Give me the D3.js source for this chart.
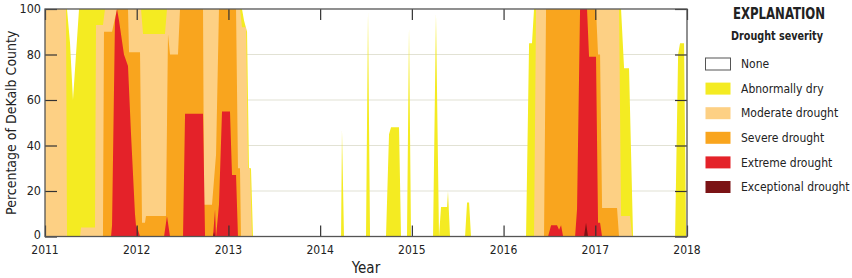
<!DOCTYPE html>
<html>
<head>
<meta charset="utf-8">
<script src="https://cdn.jsdelivr.net/npm/d3@7"></script>
<style>
  body { margin: 0; background: #fff; }
  text { font-family: "Liberation Sans Narrow", "DejaVu Sans Condensed", Roboto, sans-serif; fill: #222; }
</style>
</head>
<body>
<script>
// svg size and plot box
var w = 852;
var h = 278;
var plotLeft = 45;
var plotRight = 687;
var plotTop = 9;
var plotBottom = 236.5;

// tick labels
var yearTicks = [2011, 2012, 2013, 2014, 2015, 2016, 2017, 2018];
var pctTicks = [0, 20, 40, 60, 80, 100];

// legend categories
var categories = ["None", "Abnormally dry", "Moderate drought", "Severe drought",
                  "Extreme drought", "Exceptional drought"];
var colors = ["#ffffff", "#f4eb22", "#fdd084", "#f9a51e", "#e42229", "#7b1315"];

// percent of county in each category or worse, [decimal year, percent]
var abnormallyDry = [
  [2011.000,100],[2011.240,100],[2011.273,85],[2011.305,60],[2011.338,80],[2011.371,100],
  [2013.148,100],[2013.170,95],[2013.203,90],[2013.224,30],[2013.246,30],[2013.268,0],
  [2014.228,0],[2014.238,47],[2014.260,0],
  [2014.500,0],[2014.522,99],[2014.544,0],
  [2014.718,0],[2014.740,30],[2014.751,45],[2014.773,48],[2014.860,48],[2014.882,0],
  [2014.947,0],[2014.969,92],[2014.991,0],
  [2015.231,0],[2015.263,98],[2015.296,0],[2015.318,13],[2015.384,13],[2015.394,20],[2015.416,0],
  [2015.580,0],[2015.602,15],[2015.624,15],[2015.645,0],
  [2016.245,0],[2016.278,85],[2016.310,85],[2016.332,100],
  [2017.281,100],[2017.314,74],[2017.368,74],[2017.412,0],
  [2017.870,0],[2017.903,80],[2017.924,85],[2017.968,85],[2017.990,0]
];
var moderate = [
  [2011.000,100],[2011.229,100],[2011.240,0],[2011.382,0],[2011.393,4],[2011.545,4],
  [2011.556,93],[2011.632,93],[2011.654,100],[2012.047,100],[2012.069,89],[2012.308,89],
  [2012.330,100],[2013.126,100],[2013.148,92],[2013.192,92],[2013.214,30],[2013.235,30],[2013.257,0],
  [2016.332,0],[2016.354,100],[2017.259,100],[2017.281,9],[2017.379,9],[2017.401,0]
];
var severe = [
  [2011.000,0],[2011.632,0],[2011.643,90],[2011.731,90],[2011.785,100],[2011.905,100],
  [2011.916,81],[2012.036,81],[2012.058,6],[2012.090,6],[2012.101,9],[2012.319,9],
  [2012.341,89],[2012.363,80],[2012.450,80],[2012.472,100],[2012.723,100],[2012.734,14],
  [2012.821,14],[2012.865,36],[2012.897,100],[2013.083,100],[2013.104,30],[2013.126,30],[2013.137,0],
  [2016.441,0],[2016.463,100],[2017.008,100],[2017.030,80],[2017.052,80],[2017.074,12.5],
  [2017.237,12.5],[2017.259,0]
];
var extreme = [
  [2011.000,0],[2011.720,0],[2011.731,5],[2011.763,95],[2011.785,100],[2011.807,95],
  [2011.861,80],[2011.905,75],[2011.938,45],[2011.981,10],[2011.992,5],[2012.014,3],[2012.036,0],
  [2012.298,0],[2012.330,9],[2012.363,0],
  [2012.505,0],[2012.527,54],[2012.723,54],[2012.745,0],
  [2012.832,0],[2012.854,12],[2012.865,0],[2012.897,14],[2012.930,55],[2013.017,55],
  [2013.039,27],[2013.083,27],[2013.104,0],
  [2016.485,0],[2016.518,5],[2016.583,5],[2016.605,3],[2016.627,5],[2016.649,0],
  [2016.780,0],[2016.801,12],[2016.834,100],[2016.910,100],[2016.932,79],[2017.008,79],
  [2017.030,6],[2017.052,6],[2017.074,0]
];
var exceptional = [
  [2011.000,0],[2012.832,0],[2012.843,2],[2012.854,0],
  [2016.877,0],[2016.899,6],[2016.921,0]
];
var layers = [abnormallyDry, moderate, severe, extreme, exceptional];

// scales
var xScale = d3.scaleLinear().domain([2011, 2018]).range([plotLeft, plotRight]);
var yScale = d3.scaleLinear().domain([0, 100]).range([plotBottom, plotTop]);

var svg = d3.select("body")
            .append("svg")
            .attr("width", w)
            .attr("height", h);

// clip so areas stay inside plot box
svg.append("clipPath")
   .attr("id", "plotclip")
   .append("rect")
   .attr("x", plotLeft)
   .attr("y", plotTop)
   .attr("width", plotRight - plotLeft)
   .attr("height", plotBottom - plotTop);

// gridlines under the areas
svg.append("g")
   .selectAll("line")
   .data(pctTicks.slice(1, -1))
   .enter()
   .append("line")
   .attr("x1", plotLeft)
   .attr("x2", plotRight)
   .attr("y1", d => yScale(d))
   .attr("y2", d => yScale(d))
   .attr("stroke", "#e2e2d4")
   .attr("stroke-width", 1.2);

// draw each severity layer, worst on top
var area = d3.area()
             .x(d => xScale(d[0]))
             .y0(yScale(0))
             .y1(d => yScale(d[1]));

svg.append("g")
   .attr("clip-path", "url(#plotclip)")
   .selectAll("path")
   .data(layers)
   .enter()
   .append("path")
   .attr("d", area)
   .attr("fill", (d, i) => colors[i + 1]);

// axes with inward ticks on all four sides
svg.append("g")
   .attr("transform", "translate(" + plotLeft + ",0)")
   .call(d3.axisRight(yScale).tickValues(pctTicks).tickSize(12).tickFormat(""));
svg.append("g")
   .attr("transform", "translate(" + plotRight + ",0)")
   .call(d3.axisLeft(yScale).tickValues(pctTicks).tickSize(12).tickFormat(""));
svg.append("g")
   .attr("transform", "translate(0," + plotBottom + ")")
   .call(d3.axisTop(xScale).tickValues(yearTicks).tickSize(11).tickFormat(""));
svg.append("g")
   .attr("transform", "translate(0," + plotTop + ")")
   .call(d3.axisBottom(xScale).tickValues(yearTicks).tickSize(11).tickFormat(""));
svg.selectAll(".domain").remove();
svg.selectAll(".tick line").attr("stroke", "#333").attr("stroke-width", 1.2);

// frame
svg.append("rect")
   .attr("x", plotLeft)
   .attr("y", plotTop)
   .attr("width", plotRight - plotLeft)
   .attr("height", plotBottom - plotTop)
   .attr("fill", "none")
   .attr("stroke", "#555")
   .attr("stroke-width", 1.3);

// tick labels
svg.append("g")
   .selectAll("text")
   .data(pctTicks)
   .enter()
   .append("text")
   .attr("x", plotLeft - 4)
   .attr("y", d => yScale(d) - (d == 0 ? 2 : 0))
   .attr("dy", "0.35em")
   .attr("text-anchor", "end")
   .style("font-size", "12.5px")
   .text(d => d);
svg.append("g")
   .selectAll("text")
   .data(yearTicks)
   .enter()
   .append("text")
   .attr("x", d => xScale(d))
   .attr("y", plotBottom + 17)
   .attr("text-anchor", "middle")
   .style("font-size", "12px")
   .text(d => d);

// axis titles
svg.append("text")
   .attr("x", (plotLeft + plotRight) / 2)
   .attr("y", 273)
   .attr("text-anchor", "middle")
   .style("font-size", "15px")
   .text("Year");
svg.append("text")
   .attr("transform", "rotate(-90)")
   .attr("x", -(plotTop + plotBottom) / 2)
   .attr("y", 16)
   .attr("text-anchor", "middle")
   .style("font-size", "14px")
   .text("Percentage of DeKalb County");

// legend
svg.append("text")
   .attr("x", 733)
   .attr("y", 19)
   .attr("textLength", 92)
   .attr("lengthAdjust", "spacingAndGlyphs")
   .style("font-size", "15px")
   .style("font-weight", "bold")
   .text("EXPLANATION");
svg.append("text")
   .attr("x", 731)
   .attr("y", 40)
   .attr("textLength", 92)
   .attr("lengthAdjust", "spacingAndGlyphs")
   .style("font-size", "12.5px")
   .style("font-weight", "bold")
   .text("Drought severity");

var legend = svg.append("g")
                .selectAll("g")
                .data(categories)
                .enter()
                .append("g")
                .attr("transform", (d, i) => "translate(705," + (64 + i * 24.6) + ")");
legend.append("rect")
      .attr("x", 0.5)
      .attr("y", -6)
      .attr("width", 25)
      .attr("height", 12)
      .attr("fill", (d, i) => colors[i])
      .attr("stroke", (d, i) => i == 0 ? "#555" : "none");
legend.append("text")
      .attr("x", 36)
      .attr("dy", "0.35em")
      .style("font-size", "12px")
      .text(d => d);
</script>
</body>
</html>
